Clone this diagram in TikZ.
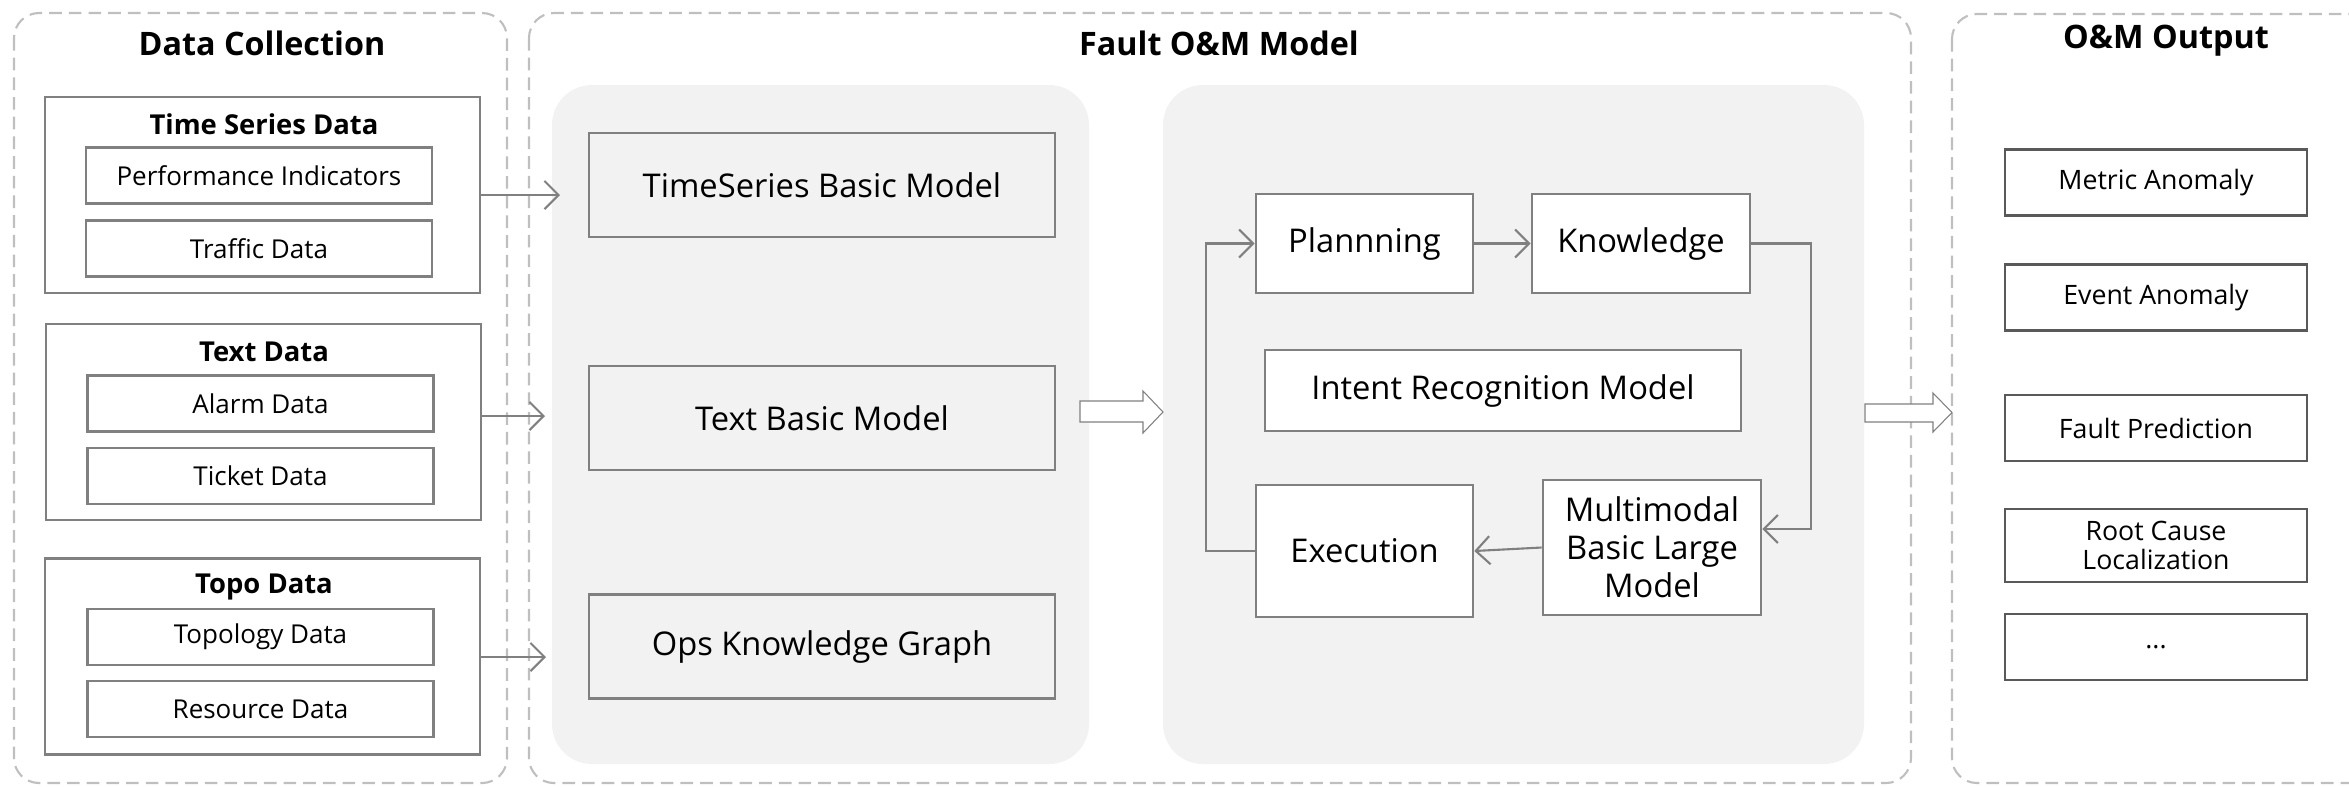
\documentclass[tikz,border=0pt]{standalone}
\usepackage{fontspec}
\setmainfont{Open Sans}
\usetikzlibrary{arrows.meta}
\definecolor{edgegray}{HTML}{808080}
\definecolor{panelgray}{HTML}{F2F2F2}
\definecolor{dashgray}{HTML}{BFBFBF}
\definecolor{outgray}{HTML}{595959}

\begin{document}
\begin{tikzpicture}[x=0.1mm, y=-0.1mm,
  panel/.style={draw=dashgray, line width=0.6pt, dash pattern=on 3.6pt off 2pt, rounded corners=2.5mm},
  backdrop/.style={fill=panelgray, rounded corners=4mm},
  title/.style={font=\fontsize{9.2}{11}\selectfont\bfseries},
  grouplabel/.style={font=\fontsize{7.8}{9.6}\selectfont\bfseries},
  group/.style={draw=edgegray, line width=0.75pt, minimum width=43.5mm, minimum height=19.6mm},
  item/.style={draw=edgegray, line width=0.75pt, minimum width=34.6mm, minimum height=5.6mm, font=\fontsize{7.4}{8.9}\selectfont},
  model/.style={draw=edgegray, line width=0.75pt, fill=panelgray, minimum width=46.6mm, minimum height=10.4mm, font=\fontsize{9.3}{11}\selectfont},
  agent/.style={draw=edgegray, line width=0.75pt, fill=white, align=center, font=\fontsize{9.3}{10.8}\selectfont},
  result/.style={draw=outgray, line width=0.75pt, minimum width=30.2mm, minimum height=6.6mm, align=center, font=\fontsize{7.6}{8.5}\selectfont},
  link/.style={draw=edgegray, line width=0.6pt, -{Straight Barb[length=4pt,width=8pt]}},
  bigarrow/.style={draw=edgegray, fill=white, line width=0.3pt}]

\clip (0,0) rectangle (2349,786);

% dashed columns and grey backdrops
\draw[panel] (14,13) rectangle (507,783);
\draw[panel] (529,13) rectangle (1911,783);
\draw[panel] (1952,14) rectangle (2420,783);
\fill[backdrop] (552,85) rectangle (1089,764);
\fill[backdrop] (1163,85) rectangle (1864,764);

\node[title] (dctitle) at (262,43) {Data Collection};
\node[title] (fmtitle) at (1219,43) {Fault O\&M Model};
\node[title] (outtitle) at (2166,41) {O\&M Output};

% data collection
\node[group] (tsgrp) at (262.5,195) {};
\node[grouplabel] (tslabel) at (264,124) {Time Series Data};
\node[item] (perf) at (259,175.5) {Performance Indicators};
\node[item] (traffic) at (259,248.5) {Traffic Data};

\node[group] (txtgrp) at (263.5,422) {};
\node[grouplabel] (txtlabel) at (264,352) {Text Data};
\node[item] (alarm) at (260.5,403.5) {Alarm Data};
\node[item] (ticket) at (260.5,476) {Ticket Data};

\node[group] (topogrp) at (262.5,656.5) {};
\node[grouplabel] (topolabel) at (264,587) {Topo Data};
\node[item] (topology) at (260.5,637) {Topology Data};
\node[item] (resource) at (260.5,709) {Resource Data};

\coordinate (tsin) at (560,195);
\coordinate (txtin) at (545,416);
\coordinate (topoin) at (546,657);
\draw[link] (tsgrp.east |- tsin) -- (tsin);
\draw[link] (txtgrp.east |- txtin) -- (txtin);
\draw[link] (topogrp.east |- topoin) -- (topoin);

% basic models
\node[model] (tsmodel) at (822,185) {TimeSeries Basic Model};
\node[model] (txtmodel) at (822,418) {Text Basic Model};
\node[model] (kgraph) at (822,646.5) {Ops Knowledge Graph};

% hollow flow arrows between the columns
\draw[bigarrow] (1080,401) -- (1143,401) -- (1143,391) -- (1163,412)
  -- (1143,433) -- (1143,422) -- (1080,422) -- cycle;

% agent loop
\node[agent, minimum width=21.7mm, minimum height=9.9mm] (plan) at (1364.5,243.5) {Plannning};
\node[agent, minimum width=21.8mm, minimum height=9.9mm] (know) at (1641,243.5) {Knowledge};
\node[agent, minimum width=47.6mm, minimum height=8.1mm] (intent) at (1503,390.5) {Intent Recognition Model};
\node[agent, minimum width=21.7mm, minimum height=13.2mm] (exec) at (1364.5,551) {Execution};
\node[agent, minimum width=21.8mm, minimum height=13.5mm] (multi) at (1652,547.5) {Multimodal\\Basic Large\\Model};

\coordinate (rloop) at (1811,529);
\coordinate (lloop) at (1206,551);
\draw[link] (plan) -- (know);
\draw[link] (know.east) -| (rloop) -- (rloop -| multi.east);
\draw[link] (multi.west) -- (exec.east);
\draw[link] (exec.west) -- (lloop) |- (plan.west);

\draw[bigarrow] (1865,404) -- (1933,404) -- (1933,393) -- (1952,412.5)
  -- (1933,432) -- (1933,422) -- (1865,422) -- cycle;

% outputs
\node[result] (metric) at (2156,182.5) {Metric Anomaly};
\node[result] (event) at (2156,297.5) {Event Anomaly};
\node[result] (predict) at (2156,428) {Fault Prediction};
\node[result] (rootcause) at (2156,545.5) {Root Cause\\Localization};
\node[result] (more) at (2156,647) {...};

\end{tikzpicture}
\end{document}
